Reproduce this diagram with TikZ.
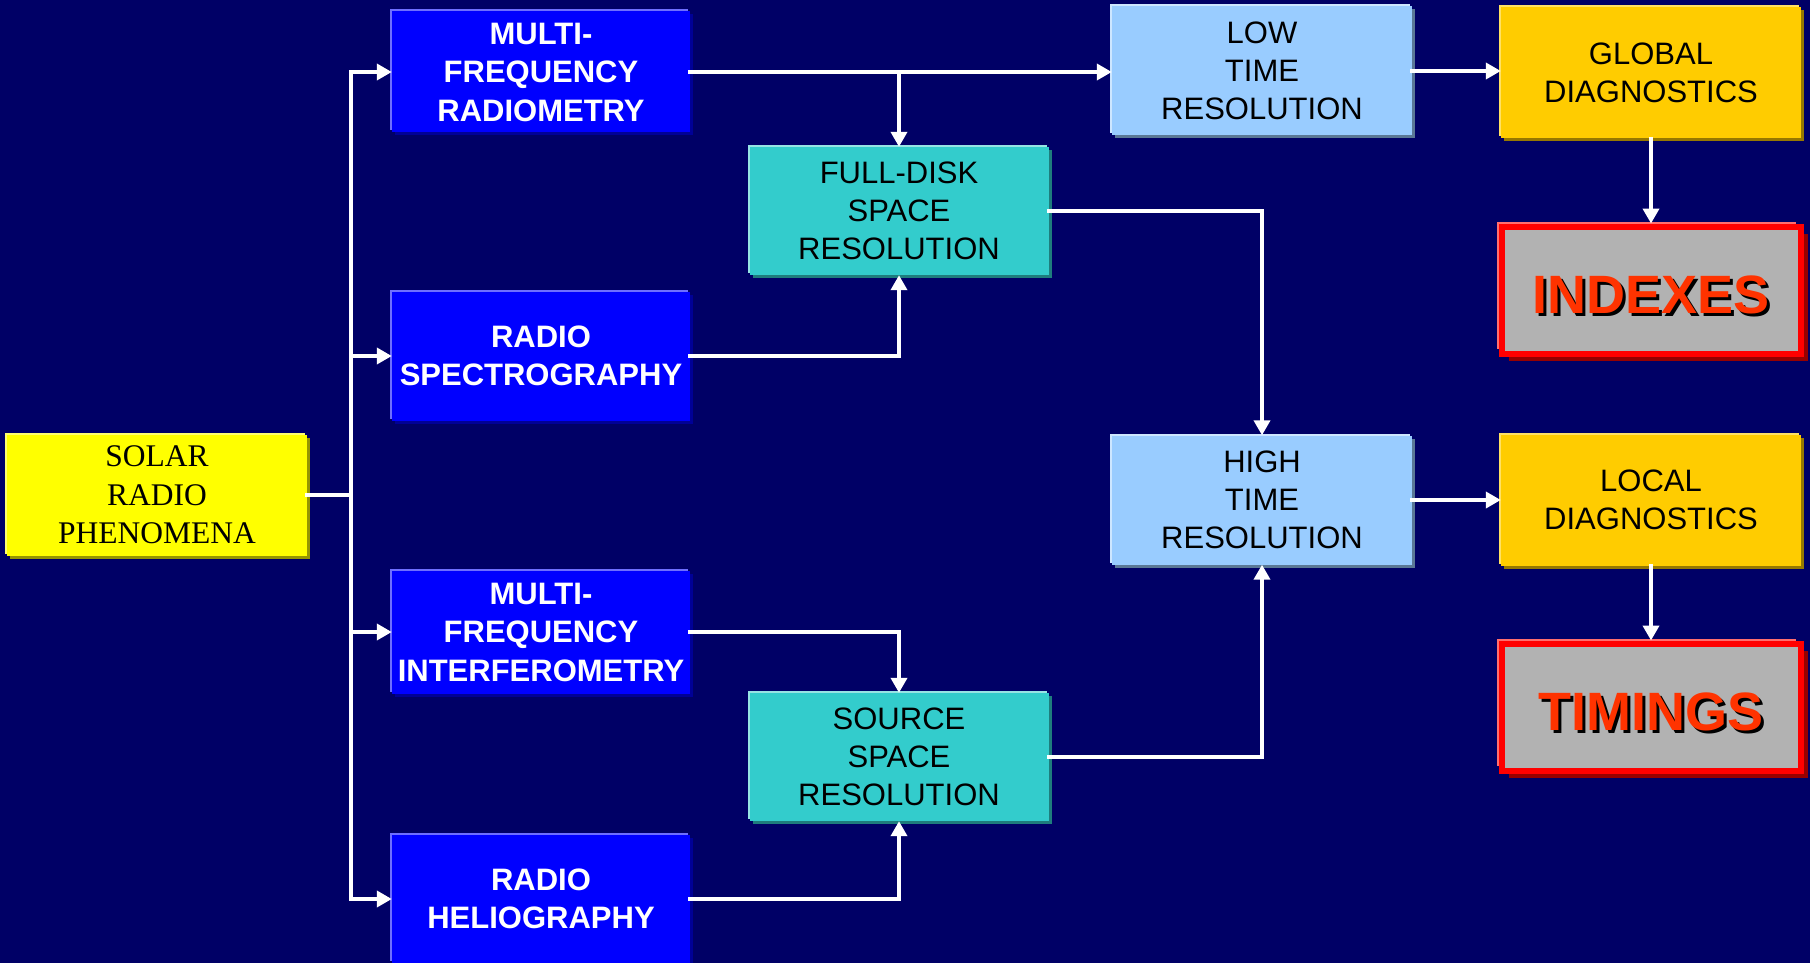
\documentclass[tikz,border=0pt]{standalone}
\usepackage{fontspec}
\setmainfont{Liberation Sans}
\newfontfamily\timesfont{Liberation Serif}
\usepackage{xcolor}
\usetikzlibrary{arrows.meta,shadows}

\definecolor{bgnavy}{RGB}{0,0,102}
\definecolor{solarfill}{RGB}{255,255,0}
\definecolor{solaredge}{RGB}{255,255,110}
\definecolor{solarshade}{RGB}{150,150,0}
\definecolor{bluefill}{RGB}{0,0,255}
\definecolor{blueedge}{RGB}{110,110,255}
\definecolor{blueshade}{RGB}{0,0,150}
\definecolor{cyanfill}{RGB}{51,204,204}
\definecolor{cyanedge}{RGB}{150,228,228}
\definecolor{cyanshade}{RGB}{30,125,125}
\definecolor{skyfill}{RGB}{153,204,255}
\definecolor{skyedge}{RGB}{205,230,255}
\definecolor{skyshade}{RGB}{90,120,150}
\definecolor{goldfill}{RGB}{255,204,0}
\definecolor{goldedge}{RGB}{255,225,100}
\definecolor{goldshade}{RGB}{150,120,0}
\definecolor{greyfill}{RGB}{178,178,178}
\definecolor{redline}{RGB}{255,0,0}
\definecolor{rededge}{RGB}{255,110,110}
\definecolor{redshade}{RGB}{150,0,0}
\definecolor{wordred}{RGB}{255,51,0}

\newcommand{\dropword}[1]{\makebox[0pt][l]{\hspace{3pt}\raisebox{-3pt}{\color{black}#1}}{\color{wordred}#1}}

\begin{document}
\begin{tikzpicture}[
        x=1pt, y=-1pt,
        every node/.style={
                align=center,
                inner sep=0pt,
                font=\fontsize{31}{38}\selectfont,
            },
        lit/.style={general shadow={fill=#1, shadow xshift=-2pt, shadow yshift=2pt}},
        dim/.style={general shadow={fill=#1, shadow xshift=3pt, shadow yshift=-3pt}},
        phenom/.style={fill=solarfill, lit=solaredge, dim=solarshade,
                minimum width=300pt, minimum height=121pt,
                font=\timesfont\fontsize{31.5}{38.5}\selectfont},
        instrument/.style={fill=bluefill, lit=blueedge, dim=blueshade, text=white,
                minimum width=298pt, font=\bfseries\fontsize{31}{38.5}\selectfont},
        spatial/.style={fill=cyanfill, lit=cyanedge, dim=cyanshade,
                minimum width=299pt, minimum height=128pt},
        temporal/.style={fill=skyfill, lit=skyedge, dim=skyshade,
                minimum width=300pt, minimum height=129pt},
        diagnostic/.style={fill=goldfill, lit=goldedge, dim=goldshade,
                minimum width=300pt, minimum height=131pt},
        product/.style={fill=greyfill, draw=redline, line width=6pt,
                general shadow={fill=rededge, shadow xshift=-5pt, shadow yshift=5pt},
                general shadow={fill=redshade, shadow xshift=7pt, shadow yshift=-7pt},
                minimum width=299pt, minimum height=127pt, text height=47pt, text depth=0pt,
                font=\bfseries\fontsize{54}{60}\selectfont},
        line/.style={draw=white, line width=4pt, line cap=rect},
        arr/.style={line, -{Triangle[length=15pt,width=16pt]}},
    ]

    \fill[bgnavy] (0,0) rectangle (1810,963);
    \useasboundingbox (0,0) rectangle (1810,963);

    \node[phenom] (solar) at (157,495) {SOLAR\\RADIO\\PHENOMENA};

    \node[instrument, minimum height=121pt] (radiometry) at (541,72) {MULTI-\\FREQUENCY\\RADIOMETRY};
    \node[instrument, minimum height=129pt] (spectro) at (541,356) {RADIO\\SPECTROGRAPHY};
    \node[instrument, minimum height=123pt] (interfero) at (541,632) {MULTI-\\FREQUENCY\\INTERFEROMETRY};
    \node[instrument, minimum height=128pt] (helio) at (541,899) {RADIO\\HELIOGRAPHY};

    \node[spatial] (fulldisk) at (899,211) {FULL-DISK\\SPACE\\RESOLUTION};
    \node[spatial] (sourcesp) at (899,757) {SOURCE\\SPACE\\RESOLUTION};

    \node[temporal] (lowtime) at (1262,71) {LOW\\TIME\\RESOLUTION};
    \node[temporal] (hightime) at (1262,500) {HIGH\\TIME\\RESOLUTION};

    \node[diagnostic] (global) at (1651,73) {GLOBAL\\DIAGNOSTICS};
    \node[diagnostic] (local) at (1651,500) {LOCAL\\DIAGNOSTICS};

    \node[product] (indexes) at (1651,290) {\dropword{INDEXES}};
    \node[product] (timings) at (1651,707) {\dropword{TIMINGS}};

    \coordinate (trunk) at (351,495);
    \draw[line] (solar.east) -- (trunk);
    \draw[line] (trunk |- radiometry.west) -- (trunk |- helio.west);
    \foreach \n in {radiometry,spectro,interfero,helio}{
            \draw[arr] (trunk |- \n.west) -- (\n.west);
        }

    \draw[arr] (radiometry.east) -- (radiometry.east -| lowtime.west);
    \draw[arr] (radiometry.east -| fulldisk.north) -- (fulldisk.north);
    \draw[arr] (spectro.east) -| (fulldisk.south);
    \draw[arr] (interfero.east) -| (sourcesp.north);
    \draw[arr] (helio.east) -| (sourcesp.south);
    \draw[arr] (fulldisk.east) -| (hightime.north);
    \draw[arr] (sourcesp.east) -| (hightime.south);

    \draw[arr] (lowtime.east) -- (lowtime.east -| global.west);
    \draw[arr] (hightime.east) -- (local.west);
    \draw[arr] (global.south) -- (indexes.north);
    \draw[arr] (local.south) -- (timings.north);
\end{tikzpicture}
\end{document}
